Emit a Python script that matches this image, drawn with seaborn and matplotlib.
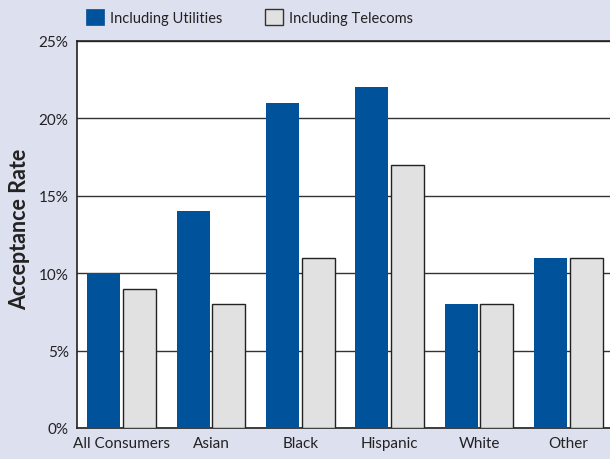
import matplotlib
matplotlib.use("Agg")
import matplotlib.pyplot as plt
from matplotlib.patches import Patch
import seaborn as sns
import pandas as pd

categories = ["All Consumers", "Asian", "Black", "Hispanic", "White", "Other"]
series_names = ["Including Utilities", "Including Telecoms"]
utilities = [10, 14, 21, 22, 8, 11]
telecoms = [9, 8, 11, 17, 8, 11]
yticks = [0, 5, 10, 15, 20, 25]
ytick_labels = ["0%", "5%", "10%", "15%", "20%", "25%"]

BLUE = "#00529b"
GRAY = "#e1e1e1"
BG = "#dde0ef"

df = pd.DataFrame({
    "cat": categories * 2,
    "series": [series_names[0]] * len(categories) + [series_names[1]] * len(categories),
    "val": utilities + telecoms,
})

sns.set_style("white")
plt.rcParams["font.family"] = ["Lato", "DejaVu Sans"]

fig = plt.figure(figsize=(6.1, 4.6), dpi=100, facecolor=BG)
ax = fig.add_axes([77 / 610, 31 / 460, 536 / 610, 387 / 460])
ax.set_facecolor("white")

sns.barplot(data=df, x="cat", y="val", hue="series", order=categories,
            hue_order=series_names, palette=[BLUE, GRAY], width=0.8, gap=0.08,
            saturation=1, legend=False, ax=ax, zorder=3)

for p in ax.containers[0]:
    p.set_edgecolor(BLUE)
    p.set_linewidth(0)
for p in ax.containers[1]:
    p.set_edgecolor("#222222")
    p.set_linewidth(1.0)

ax.set_ylim(0, 25)
ax.set_xlim(-0.5, 5.5)
ax.set_yticks(yticks)
ax.set_yticklabels(ytick_labels, fontsize=11, color="#222222")
ax.yaxis.grid(True, color="#333333", linewidth=1.0, zorder=1)
ax.set_axisbelow(True)
ax.tick_params(axis="y", length=0, pad=6)
ax.tick_params(axis="x", which="major", length=0, pad=6, labelsize=11, labelcolor="#222222")
ax.set_xticks([i + 0.5 for i in range(len(categories) - 1)], minor=True)
ax.tick_params(axis="x", which="minor", direction="in", length=9, width=1, color="#333333")

for s in ["left", "bottom", "top"]:
    ax.spines[s].set_visible(True)
    ax.spines[s].set_color("#222222")
    ax.spines[s].set_linewidth(1.2)
ax.spines["right"].set_visible(False)

ax.set_xlabel("")
ax.set_ylabel("Acceptance Rate", fontsize=15.5, fontweight="bold", color="#222222")
ax.yaxis.set_label_coords(-0.088, 0.517)

handles = [Patch(facecolor=BLUE, edgecolor=BLUE, linewidth=0.5),
           Patch(facecolor=GRAY, edgecolor="#333333", linewidth=1.0)]
fig.legend(handles, series_names, loc="upper left", bbox_to_anchor=(76 / 610, 1.0),
           ncol=2, frameon=False, fontsize=10.5, handlelength=1.25, handleheight=1.3,
           handletextpad=0.4, columnspacing=2.9, labelcolor="#222222",
           borderaxespad=0.3)

fig.savefig("out.png", dpi=100, facecolor=BG)
